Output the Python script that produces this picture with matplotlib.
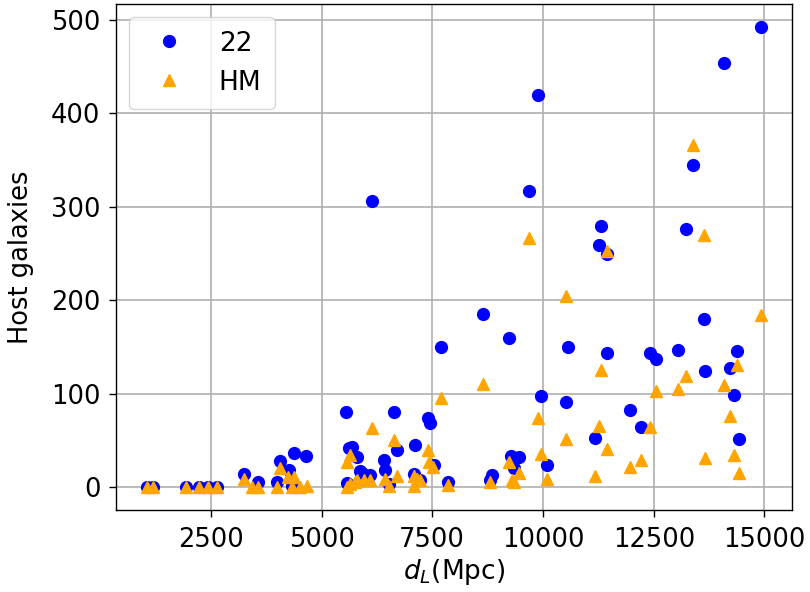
import numpy as np
import matplotlib.pyplot as plt

# dados (d_L em Mpc, numero de galaxias hospedeiras)
dl_22 = [1050, 1200, 1935, 2236, 2440, 2636, 3253, 3570, 3990, 4066, 4270, 4382, 4653, 4330,
         5541, 5630, 5796, 5572, 5873, 6626, 7393, 7439, 5685, 6700, 7115, 6400, 6438, 5910,
         6083, 7077, 7228, 6512, 7530, 7852, 8845, 8792, 9275, 9447, 9336, 9954, 10527, 10088,
         6136, 9682, 8636, 9243, 7703, 9894, 14931, 14096, 13388, 11317, 11256, 11444, 13227,
         13628, 10555, 11444, 12424, 12550, 13039, 14380, 13666, 14215, 14306, 11972, 12213,
         11166, 14435]
n_22 = [0, 0, 0, 0, 0, 0, 14, 6, 6, 28, 18, 37, 33, 1,
        80, 42, 32, 5, 17, 81, 74, 69, 43, 40, 45, 29, 19, 15,
        13, 14, 7.5, 3, 24, 6, 13, 8, 33, 32, 21, 98, 91, 24,
        306, 317, 185, 160, 150, 419, 492, 454, 345, 279, 259, 249, 276,
        180, 150, 144, 144, 137, 147, 146, 124, 128, 99, 83, 65,
        53, 52]

dl_hm = [1050, 1200, 1935, 2236, 2440, 2636, 3253, 3425, 3576, 3990, 4066, 4254, 4367, 4330,
         4518, 4670, 5572, 5572, 5760, 8642, 7695, 6137, 6626, 5647, 7393, 7417, 7516, 5798,
         5948, 6099, 5647, 6423, 6700, 7077, 7152, 7228, 7077, 6512, 7852, 8809, 9243, 9447,
         9296, 9350, 9898, 9954, 10088, 10527, 9682, 10527, 13388, 13628, 11444, 14931,
         11317, 13237, 13039, 12559, 14077, 14380, 14215, 11256, 12424, 11444, 12213, 11972,
         13666, 14306, 11166, 14435]
n_hm = [0, 0, 0, 0, 0, 0, 9, 0, 0, 0, 21, 11, 11, 0,
        0, 1, 27, 0, 6, 110, 95, 63, 51, 34, 40, 27, 22, 7.5,
        7.5, 7.5, 4, 9, 12, 12, 9, 8, 1, 1, 2, 6, 27, 15,
        7.5, 6, 74, 36, 9, 52, 267, 205, 366, 270, 253, 184,
        125, 119, 105, 103, 109, 131, 76, 66, 64, 41, 29, 22,
        31, 35, 12, 15]

fig, ax = plt.subplots(figsize=(8.1, 5.92), dpi=100)
fig.subplots_adjust(left=0.143, right=0.978, top=0.993, bottom=0.138)

ax.plot(dl_22, n_22, 'o', color='blue', markersize=8.5, label='22')
ax.plot(dl_hm, n_hm, '^', color='orange', markersize=8.5, label='HM')

ax.grid(True, color='#b0b0b0', linewidth=1.2)
ax.set_axisbelow(True)
ax.set_xticks([2500, 5000, 7500, 10000, 12500, 15000])
ax.set_yticks([0, 100, 200, 300, 400, 500])
ax.tick_params(labelsize=18.5, length=5, width=1.0)
ax.tick_params(axis='x', pad=7)
ax.tick_params(axis='y', pad=6)
for s in ax.spines.values():
    s.set_linewidth(1.0)
ax.set_xlabel(r'$d_L$(Mpc)', fontsize=19, labelpad=3)
ax.set_ylabel('Host galaxies', fontsize=18.5, labelpad=12)
ax.legend(loc='upper left', fontsize=19, handletextpad=0.9, borderpad=0.5,
          borderaxespad=0.5, labelspacing=0.5, handlelength=2.0)

fig.savefig('out.png')
